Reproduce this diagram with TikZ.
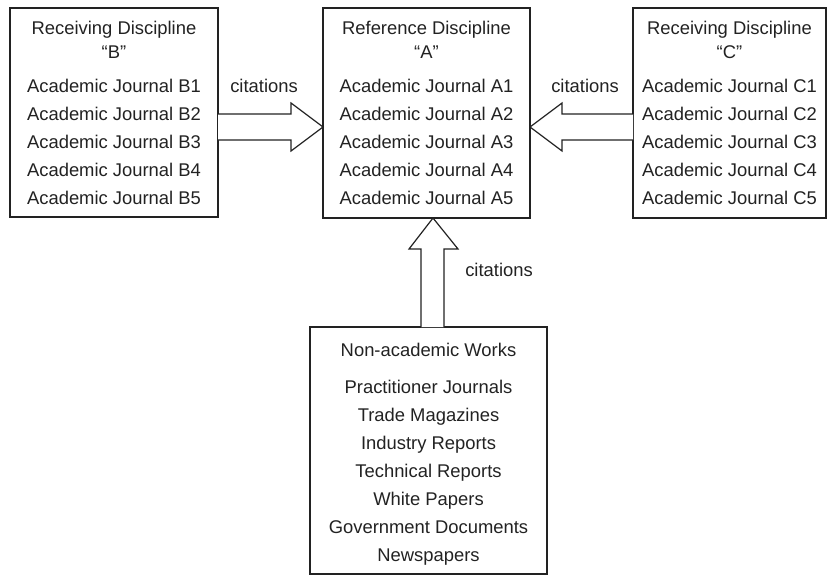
\documentclass[tikz,border=0pt]{standalone}
\usepackage{fontspec}
\setmainfont{Liberation Sans}
\usetikzlibrary{calc}
\definecolor{ink}{HTML}{222222}
\begin{document}
\begin{tikzpicture}[x=1pt,y=-1pt,
  box/.style={draw=ink,line width=1.2pt,inner sep=0pt,outer sep=0pt,rectangle},
  txt/.style={text=ink,font=\fontsize{18.4}{22}\selectfont,inner sep=0pt,anchor=base},
  blockarrow/.style={draw=ink,line width=1.2pt,fill=white,line join=miter}]
\useasboundingbox (0,0) rectangle (834,576);
% boxes
\node[box,minimum width=208pt,minimum height=209pt] (B) at (114,112.5) {};
\node[box,minimum width=207pt,minimum height=210pt] (A) at (426.5,113) {};
\node[box,minimum width=193pt,minimum height=210pt] (C) at (729.5,113) {};
\node[box,minimum width=237pt,minimum height=247pt] (N) at (428.5,450.5) {};
% box B text
\node[txt] (Bt) at (114,34) {Receiving Discipline};
\node[txt] (Bq) at (114,58) {“B”};
\foreach \i/\y in {1/92,2/120,3/148,4/176,5/204}
  \node[txt] (B\i) at (114,\y) {Academic Journal B\i};
% box A text
\node[txt] (At) at (426.5,34) {Reference Discipline};
\node[txt] (Aq) at (426.5,58) {“A”};
\foreach \i/\y in {1/92,2/120,3/148,4/176,5/204}
  \node[txt] (A\i) at (426.5,\y) {Academic Journal A\i};
% box C text
\node[txt] (Ct) at (729.5,34) {Receiving Discipline};
\node[txt] (Cq) at (729.5,58) {“C”};
\foreach \i/\y in {1/92,2/120,3/148,4/176,5/204}
  \node[txt] (C\i) at (729.5,\y) {Academic Journal C\i};
% box N text
\node[txt] (Nt) at (428.5,356) {Non-academic Works};
\node[txt] (N1) at (428.5,393) {Practitioner Journals};
\node[txt] (N2) at (428.5,421) {Trade Magazines};
\node[txt] (N3) at (428.5,449) {Industry Reports};
\node[txt] (N4) at (428.5,477) {Technical Reports};
\node[txt] (N5) at (428.5,505) {White Papers};
\node[txt] (N6) at (428.5,533) {Government Documents};
\node[txt] (N7) at (428.5,561) {Newspapers};
% block arrows
\draw[blockarrow] (B.east |- 0,114) -- (291,114) -- (291,103) -- (A.west |- 0,127)
  -- (291,151) -- (291,140) -- (B.east |- 0,140);
\draw[blockarrow] (C.west |- 0,114) -- (562,114) -- (562,103) -- (A.east |- 0,127)
  -- (562,151) -- (562,140) -- (C.west |- 0,140);
\draw[blockarrow] (421,0 |- N.north) -- (421,249) -- (409,249) -- (433,0 |- A.south)
  -- (458,249) -- (444,249) -- (444,0 |- N.north);
% labels
\node[txt] (L1) at (264,92) {citations};
\node[txt] (L2) at (585,92) {citations};
\node[txt] (L3) at (499,276) {citations};
\end{tikzpicture}
\end{document}
